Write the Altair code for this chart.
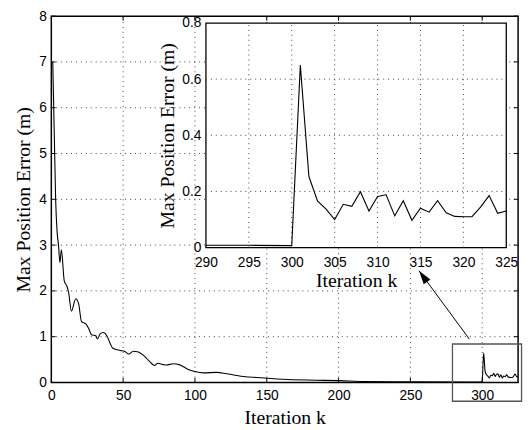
import altair as alt
import pandas as pd

# ---- data ----
k_main = [1, 2, 3, 4, 5, 6, 7, 9, 11, 12, 14, 17, 19, 21, 24, 26, 28, 31, 32, 34, 36, 39, 41, 43,
          48, 51, 54, 57, 60, 65, 68, 72, 74, 78, 80, 85, 89, 95, 100, 106, 115, 122, 127, 134,
          143, 161, 184, 200, 218, 250, 290, 295, 300]
e_main = [7.0, 5.5, 4.0, 3.3, 3.0, 2.62, 2.9, 2.22, 2.09, 1.97, 1.56, 1.83, 1.72, 1.33, 1.28, 1.18,
          1.04, 1.02, 0.95, 1.06, 1.09, 1.0, 0.85, 0.74, 0.70, 0.68, 0.62, 0.68, 0.67, 0.57, 0.47,
          0.37, 0.42, 0.39, 0.38, 0.41, 0.39, 0.29, 0.24, 0.21, 0.22, 0.19, 0.165, 0.13, 0.107,
          0.07, 0.05, 0.04, 0.02, 0.012, 0.008, 0.008, 0.007]
k_tail = list(range(301, 326))
e_tail = [0.65, 0.253, 0.166, 0.137, 0.10, 0.154, 0.147, 0.199, 0.130, 0.182, 0.188, 0.113, 0.167,
          0.097, 0.140, 0.126, 0.167, 0.124, 0.111, 0.11, 0.11, 0.144, 0.185, 0.122, 0.13]

x_ticks = [0, 50, 100, 150, 200, 250, 300]
y_ticks = [0, 1, 2, 3, 4, 5, 6, 7, 8]
xi_ticks = [290, 295, 300, 305, 310, 315, 320, 325]
yi_ticks = [0, 0.2, 0.4, 0.6, 0.8]
xi_grid = [295, 300, 305, 310, 315, 320]
yi_grid = [0.2, 0.4, 0.6]

zoom_box = {"x": [279.3], "x2": [327.4], "y": [-0.41], "y2": [0.84]}
arrow_from = (291, 0.95)
arrow_to = (256, 2.44)

# ---- layout ----
W, H = 474, 372
INSET_X = [157, 462]
INSET_Y = [235, 7]
SERIF = "Liberation Serif"
SANS = "Liberation Sans"

df = pd.DataFrame({"k": k_main + k_tail, "err": e_main + e_tail})


def xm():
    return alt.Scale(domain=[0, 325], range=[0, W], nice=False, zero=False)


def ym():
    return alt.Scale(domain=[0, 8], range=[H, 0], nice=False, zero=False)


def xi():
    return alt.Scale(domain=[290, 325], range=INSET_X, nice=False, zero=False)


def yi():
    return alt.Scale(domain=[0, 0.8], range=INSET_Y, nice=False, zero=False)


common_axis = dict(ticks=False, domain=False, labelFont=SANS, labelFontSize=14, labelColor="black",
                   titleFont=SERIF, titleFontSize=20, titleFontWeight="normal", titleColor="black",
                   labelFlush=False)

# main grid (drawn as rules so the inset can cover it)
gmx = pd.DataFrame({"t": x_ticks[1:]})
gmy = pd.DataFrame({"t": y_ticks[1:-1]})
main_gx = alt.Chart(gmx).mark_rule(color="#444", strokeWidth=1, strokeDash=[1, 4]).encode(
    x=alt.X("t:Q", scale=xm(), axis=None),
    y=alt.YDatum(0, scale=ym(), axis=None), y2=alt.Y2Datum(8))
main_gy = alt.Chart(gmy).mark_rule(color="#444", strokeWidth=1, strokeDash=[1, 4]).encode(
    y=alt.Y("t:Q", scale=ym(), axis=None),
    x=alt.XDatum(0, scale=xm(), axis=None), x2=alt.X2Datum(325))

main_line = alt.Chart(df).mark_line(color="black", strokeWidth=1.1, interpolate="monotone").encode(
    x=alt.X("k:Q", scale=xm(), axis=alt.Axis(values=x_ticks, title="Iteration k", orient="bottom",
                                              labelPadding=6, titlePadding=6, grid=False, **common_axis)),
    y=alt.Y("err:Q", scale=ym(), axis=alt.Axis(values=y_ticks, title="Max Position Error (m)",
                                                orient="left", labelPadding=5, titlePadding=5,
                                                format="d", grid=False, **common_axis)),
)

tx = pd.DataFrame({"t": x_ticks})
ty = pd.DataFrame({"t": y_ticks})
tick_rule = dict(color="black", strokeWidth=1)
bottom_ticks = alt.Chart(tx).mark_rule(**tick_rule).encode(
    x=alt.X("t:Q", scale=xm(), axis=None),
    y=alt.YDatum(0, scale=ym(), axis=None), y2=alt.Y2Datum(0.1))
top_ticks = alt.Chart(tx).mark_rule(**tick_rule).encode(
    x=alt.X("t:Q", scale=xm(), axis=None),
    y=alt.YDatum(8, scale=ym(), axis=None), y2=alt.Y2Datum(7.9))
left_ticks = alt.Chart(ty).mark_rule(**tick_rule).encode(
    y=alt.Y("t:Q", scale=ym(), axis=None),
    x=alt.XDatum(0, scale=xm(), axis=None), x2=alt.X2Datum(3))
right_ticks = alt.Chart(ty).mark_rule(**tick_rule).encode(
    y=alt.Y("t:Q", scale=ym(), axis=None),
    x=alt.XDatum(325, scale=xm(), axis=None), x2=alt.X2Datum(322))

box = alt.Chart(pd.DataFrame(zoom_box)).mark_rect(fillOpacity=0, stroke="#555", strokeWidth=1.3).encode(
    x=alt.X("x:Q", scale=xm(), axis=None), x2="x2:Q",
    y=alt.Y("y:Q", scale=ym(), axis=None), y2="y2:Q")

arrow_df = pd.DataFrame({"x": [arrow_from[0]], "y": [arrow_from[1]],
                         "x2": [arrow_to[0]], "y2": [arrow_to[1]]})
arrow_line = alt.Chart(arrow_df).mark_rule(color="black", strokeWidth=1).encode(
    x=alt.X("x:Q", scale=xm(), axis=None), x2="x2:Q",
    y=alt.Y("y:Q", scale=ym(), axis=None), y2="y2:Q")
arrow_head = alt.Chart(arrow_df).mark_point(
    shape="M0,0L0.3,1L-0.3,1Z", size=784, filled=True, color="black", opacity=1, angle=324
).encode(x=alt.X("x2:Q", scale=xm(), axis=None), y=alt.Y("y2:Q", scale=ym(), axis=None))

# ---- inset ----
bg_df = pd.DataFrame({"x": [290], "x2": [325], "y": [0], "y2": [0.8]})
inset_bg = alt.Chart(bg_df).mark_rect(fill="white", stroke="black", strokeWidth=1.3).encode(
    x=alt.X("x:Q", scale=xi(), axis=alt.Axis(values=xi_ticks, title="Iteration k", orient="bottom",
                                              offset=-(H - INSET_Y[0]), labelPadding=8, titlePadding=2,
                                              grid=False, **common_axis)),
    x2="x2:Q",
    y=alt.Y("y:Q", scale=yi(), axis=alt.Axis(values=yi_ticks, title="Max Position Error (m)",
                                              orient="left", offset=-INSET_X[0], labelPadding=5,
                                              titlePadding=4, format="~g", grid=False, **common_axis)),
    y2="y2:Q",
)
gx = pd.DataFrame({"t": xi_grid})
gy = pd.DataFrame({"t": yi_grid})
inset_gx = alt.Chart(gx).mark_rule(color="#444", strokeWidth=1, strokeDash=[1, 4]).encode(
    x=alt.X("t:Q", scale=xi(), axis=None),
    y=alt.YDatum(0, scale=yi(), axis=None), y2=alt.Y2Datum(0.8))
inset_gy = alt.Chart(gy).mark_rule(color="#444", strokeWidth=1, strokeDash=[1, 4]).encode(
    y=alt.Y("t:Q", scale=yi(), axis=None),
    x=alt.XDatum(290, scale=xi(), axis=None), x2=alt.X2Datum(325))
inset_line = alt.Chart(df).transform_filter(alt.datum.k >= 290).mark_line(
    color="black", strokeWidth=1.1).encode(
    x=alt.X("k:Q", scale=xi(), axis=None), y=alt.Y("err:Q", scale=yi(), axis=None))

chart = alt.layer(
    main_gx, main_gy, main_line, bottom_ticks, top_ticks, left_ticks, right_ticks, box,
    arrow_line, arrow_head, inset_bg, inset_gx, inset_gy, inset_line
).resolve_scale(x="independent", y="independent").resolve_axis(
    x="independent", y="independent"
).properties(
    width=W, height=H,
    autosize=alt.AutoSizeParams(type="none"),
    padding={"left": 44, "top": 5, "right": 6, "bottom": 45},
    background="white",
).configure_view(stroke="black", strokeWidth=1.5)

chart.save("out.html", embed_options={"renderer": "svg", "actions": False})
